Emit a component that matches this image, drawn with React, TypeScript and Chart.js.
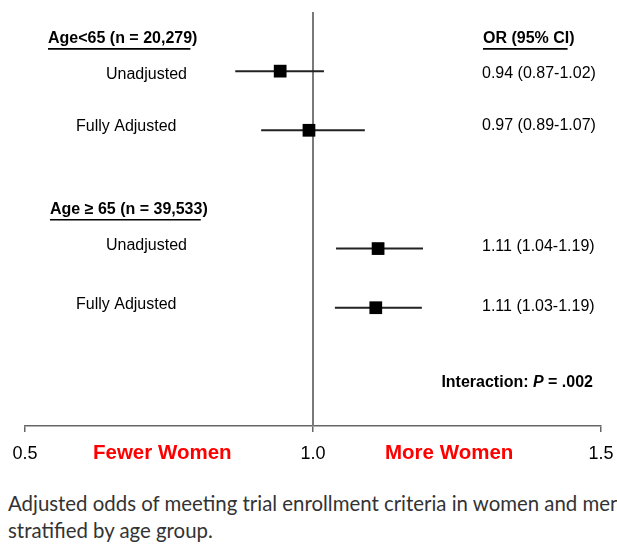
import React, { useEffect, useRef } from "react";
import { Chart, registerables } from "chart.js";

Chart.register(...registerables);

// ---- data ----
const rowLabels = ["Unadjusted", "Fully Adjusted", "Unadjusted", "Fully Adjusted"];
const rowPos = [1, 2, 4, 5];
const orValues = [0.943, 0.993, 1.113, 1.109];
const ciLow = [0.865, 0.91, 1.04, 1.038];
const ciHigh = [1.019, 1.09, 1.191, 1.189];
const orLabels = ["0.94 (0.87-1.02)", "0.97 (0.89-1.07)", "1.11 (1.04-1.19)", "1.11 (1.03-1.19)"];
const groupHeaders = ["Age<65 (n = 20,279)", "Age \u2265 65 (n = 39,533)"];
const orHeader = "OR (95% CI)";
const xTicks = [0.5, 1.0, 1.5];
const directionLabels = ["Fewer Women", "More Women"];
const referenceValue = 1.0;
const captionLines = [
  "Adjusted odds of meeting trial enrollment criteria in women and men",
  "stratified by age group.",
];

// ---- layout (text placement) ----
const FONT = "'Liberation Sans', Arial, Helvetica, sans-serif";
const TEXT_DY = 2;
const headerRow = [0.42, 3.31];
const headerX = [40, 42];
const labelRow = [1.03, 1.91, 3.91, 4.92];
const labelX = [98, 68, 98, 68];
const orLabelRow = [1.0, 1.88, 3.94, 4.95];
const orColX = 474;
const interactionRow = 6.24;
const interactionRight = 585;
const directionX = [85, 377];
const bottomTextY = 445;

const textPlugin = {
  id: "forestText",
  afterDraw(chart: any) {
    const ctx = chart.ctx as CanvasRenderingContext2D;
    const y = chart.scales.y;
    const x = chart.scales.x;
    const py = (v: number) => y.getPixelForValue(v) + TEXT_DY;
    ctx.save();
    ctx.textBaseline = "middle";
    ctx.textAlign = "left";
    ctx.fillStyle = "#000";
    ctx.strokeStyle = "#000";

    const underlined = (text: string, px: number, yy: number) => {
      ctx.font = `bold 16px ${FONT}`;
      ctx.fillText(text, px, yy);
      const w = ctx.measureText(text).width;
      ctx.lineWidth = 1.6;
      ctx.beginPath();
      ctx.moveTo(px, yy + 10);
      ctx.lineTo(px + w - 7, yy + 10);
      ctx.stroke();
    };

    groupHeaders.forEach((h, i) => underlined(h, headerX[i], py(headerRow[i])));
    underlined(orHeader, orColX + 1, py(headerRow[0]));

    ctx.font = `16px ${FONT}`;
    rowLabels.forEach((l, i) => ctx.fillText(l, labelX[i], py(labelRow[i])));
    orLabels.forEach((l, i) => ctx.fillText(l, orColX, py(orLabelRow[i])));

    // Interaction text
    const iy = py(interactionRow);
    const parts: [string, string][] = [
      ["Interaction: ", `bold 16px ${FONT}`],
      ["P", `italic bold 16px ${FONT}`],
      [" = .002", `bold 16px ${FONT}`],
    ];
    let total = 0;
    parts.forEach(([t, f]) => {
      ctx.font = f;
      total += ctx.measureText(t).width;
    });
    let cx = interactionRight - total;
    parts.forEach(([t, f]) => {
      ctx.font = f;
      ctx.fillText(t, cx, iy);
      cx += ctx.measureText(t).width;
    });

    // x tick labels
    ctx.font = `18px ${FONT}`;
    ctx.textAlign = "center";
    xTicks.forEach((v) => ctx.fillText(v.toFixed(1), x.getPixelForValue(v), bottomTextY + 1));

    // direction labels
    ctx.textAlign = "left";
    ctx.font = `bold 20.5px ${FONT}`;
    ctx.fillStyle = "#ff0000";
    directionLabels.forEach((l, i) => ctx.fillText(l, directionX[i], bottomTextY));
    ctx.restore();
  },
};

export default function App() {
  const ref = useRef<HTMLCanvasElement | null>(null);
  useEffect(() => {
    if (!ref.current) return;
    const ciSets = rowPos.map((r, i) => ({
      type: "line" as const,
      data: [
        { x: ciLow[i], y: r },
        { x: ciHigh[i], y: r },
      ],
      borderColor: "#222",
      borderWidth: 2,
      pointRadius: 0,
      order: 1,
    }));
    const chart = new Chart(ref.current, {
      type: "scatter",
      data: {
        datasets: [
          {
            type: "scatter" as const,
            data: rowPos.map((r, i) => ({ x: orValues[i], y: r })),
            pointStyle: "rect",
            pointRadius: 9,
            backgroundColor: "#000",
            borderWidth: 0,
            order: 0,
          },
          ...ciSets,
          {
            type: "line" as const,
            data: [
              { x: referenceValue, y: 0 },
              { x: referenceValue, y: 7 },
            ],
            borderColor: "#7a7a7a",
            borderWidth: 2,
            pointRadius: 0,
            order: 2,
          },
        ] as any,
      },
      options: {
        animation: false,
        responsive: false,
        maintainAspectRatio: false,
        layout: { autoPadding: false, padding: { left: 17, right: 16, top: 4, bottom: 46 } },
        plugins: { legend: { display: false }, tooltip: { enabled: false } },
        scales: {
          x: {
            type: "linear",
            min: 0.5,
            max: 1.5,
            afterBuildTicks: (s: any) => {
              s.ticks = xTicks.map((v) => ({ value: v }));
            },
            afterFit: (s: any) => {
              s.paddingLeft = 0;
              s.paddingRight = 0;
              s.height = 6;
            },
            ticks: { display: false, autoSkip: false },
            grid: { drawOnChartArea: false, drawTicks: true, tickLength: 6, color: "#666", lineWidth: 1.5 },
            border: { color: "#666", width: 1.5 },
          },
          y: { type: "linear", min: 0, max: 7, reverse: true, display: false },
        },
      },
      plugins: [textPlugin],
    });
    return () => chart.destroy();
  }, []);

  return (
    <div
      style={{
        position: "fixed",
        left: 0,
        top: 0,
        width: 617,
        height: 544,
        overflow: "hidden",
        background: "#fff",
      }}
    >
      <canvas
        ref={ref}
        width={609}
        height={470}
        style={{ position: "absolute", left: 8, top: 8, display: "block", width: 609, height: 470 }}
      />
      <div
        style={{
          position: "absolute",
          left: 8,
          top: 490,
          width: 609,
          overflow: "hidden",
          fontFamily: "Lato, 'Noto Sans', sans-serif",
          fontSize: 20.4,
          lineHeight: "27px",
          color: "#333",
          whiteSpace: "nowrap",
        }}
      >
        {captionLines.map((l, i) => (
          <div key={i}>{l}</div>
        ))}
      </div>
    </div>
  );
}
